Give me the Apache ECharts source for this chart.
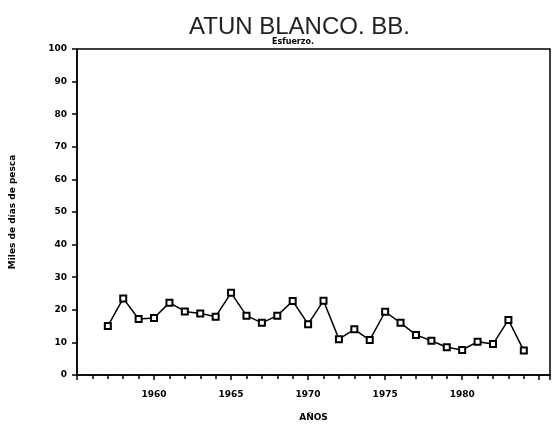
<!DOCTYPE html>
<html>
<head>
<meta charset="utf-8">
<script src="https://cdn.jsdelivr.net/npm/echarts@6/dist/echarts.min.js"></script>
<style>
  html, body { margin: 0; padding: 0; background: #fff; }
  #chart { width: 556px; height: 428px; }
</style>
</head>
<body>
<div id="chart"></div>
<script>
// datos
var years = [1957, 1958, 1959, 1960, 1961, 1962, 1963, 1964, 1965, 1966,
  1967, 1968, 1969, 1970, 1971, 1972, 1973, 1974, 1975, 1976,
  1977, 1978, 1979, 1980, 1981, 1982, 1983, 1984]
var esfuerzo = [15.0, 23.5, 17.2, 17.5, 22.2, 19.5, 18.9, 17.9, 25.2, 18.2,
  16.0, 18.2, 22.7, 15.6, 22.8, 11.0, 14.0, 10.7, 19.4, 16.0,
  12.3, 10.5, 8.5, 7.7, 10.2, 9.5, 16.9, 7.5]
var yearLabels = [1960, 1965, 1970, 1975, 1980]

var chart = echarts.init(document.getElementById('chart'))

var points = []
years.forEach(function (y, i) {
  points.push([y, esfuerzo[i]])
})

var labelFont = {
  color: '#000',
  fontFamily: 'DejaVu Sans',
  fontWeight: 'bold',
  fontSize: 9
}

var option = {
  backgroundColor: '#fff',
  animation: false,
  title: [
    {
      text: 'ATUN BLANCO. BB.',
      left: 184,
      top: 10,
      textStyle: { color: '#222', fontFamily: 'Liberation Sans', fontWeight: 'normal', fontSize: 24 }
    },
    {
      text: 'Esfuerzo.',
      left: 267,
      top: 33,
      textStyle: { color: '#000', fontFamily: 'DejaVu Sans', fontWeight: 'bold', fontSize: 8 }
    }
  ],
  grid: {
    left: 75,
    right: 6,
    top: 49,
    bottom: 53,
    show: true,
    borderColor: '#000',
    borderWidth: 1.5
  },
  xAxis: {
    type: 'value',
    min: 1955,
    max: 1985.7,
    interval: 5,
    name: 'AÑOS',
    nameLocation: 'middle',
    nameGap: 38,
    nameTextStyle: labelFont,
    axisLine: { lineStyle: { color: '#000', width: 1.5 } },
    axisTick: { show: true, length: 5, lineStyle: { color: '#000', width: 1.5 } },
    minorTick: { show: true, splitNumber: 5, length: 4, lineStyle: { color: '#000', width: 1.5 } },
    splitLine: { show: false },
    axisLabel: Object.assign({
      margin: 15,
      showMinLabel: false,
      showMaxLabel: false,
      formatter: function (v) {
        return yearLabels.indexOf(v) >= 0 ? String(v) : ''
      }
    }, labelFont)
  },
  yAxis: {
    type: 'value',
    min: 0,
    max: 100,
    interval: 10,
    name: 'Miles de días de pesca',
    nameLocation: 'middle',
    nameGap: 60,
    nameTextStyle: labelFont,
    axisLine: { show: true, lineStyle: { color: '#000', width: 1.5 } },
    axisTick: { show: true, length: 5, lineStyle: { color: '#000', width: 1.5 } },
    splitLine: { show: false },
    axisLabel: Object.assign({ margin: 10 }, labelFont)
  },
  series: [
    {
      name: 'Esfuerzo',
      type: 'line',
      data: points,
      symbol: 'rect',
      symbolSize: 6,
      lineStyle: { color: '#000', width: 1.5 },
      itemStyle: { color: '#fff', borderColor: '#000', borderWidth: 2 }
    }
  ]
}
chart.setOption(option)
</script>
</body>
</html>
